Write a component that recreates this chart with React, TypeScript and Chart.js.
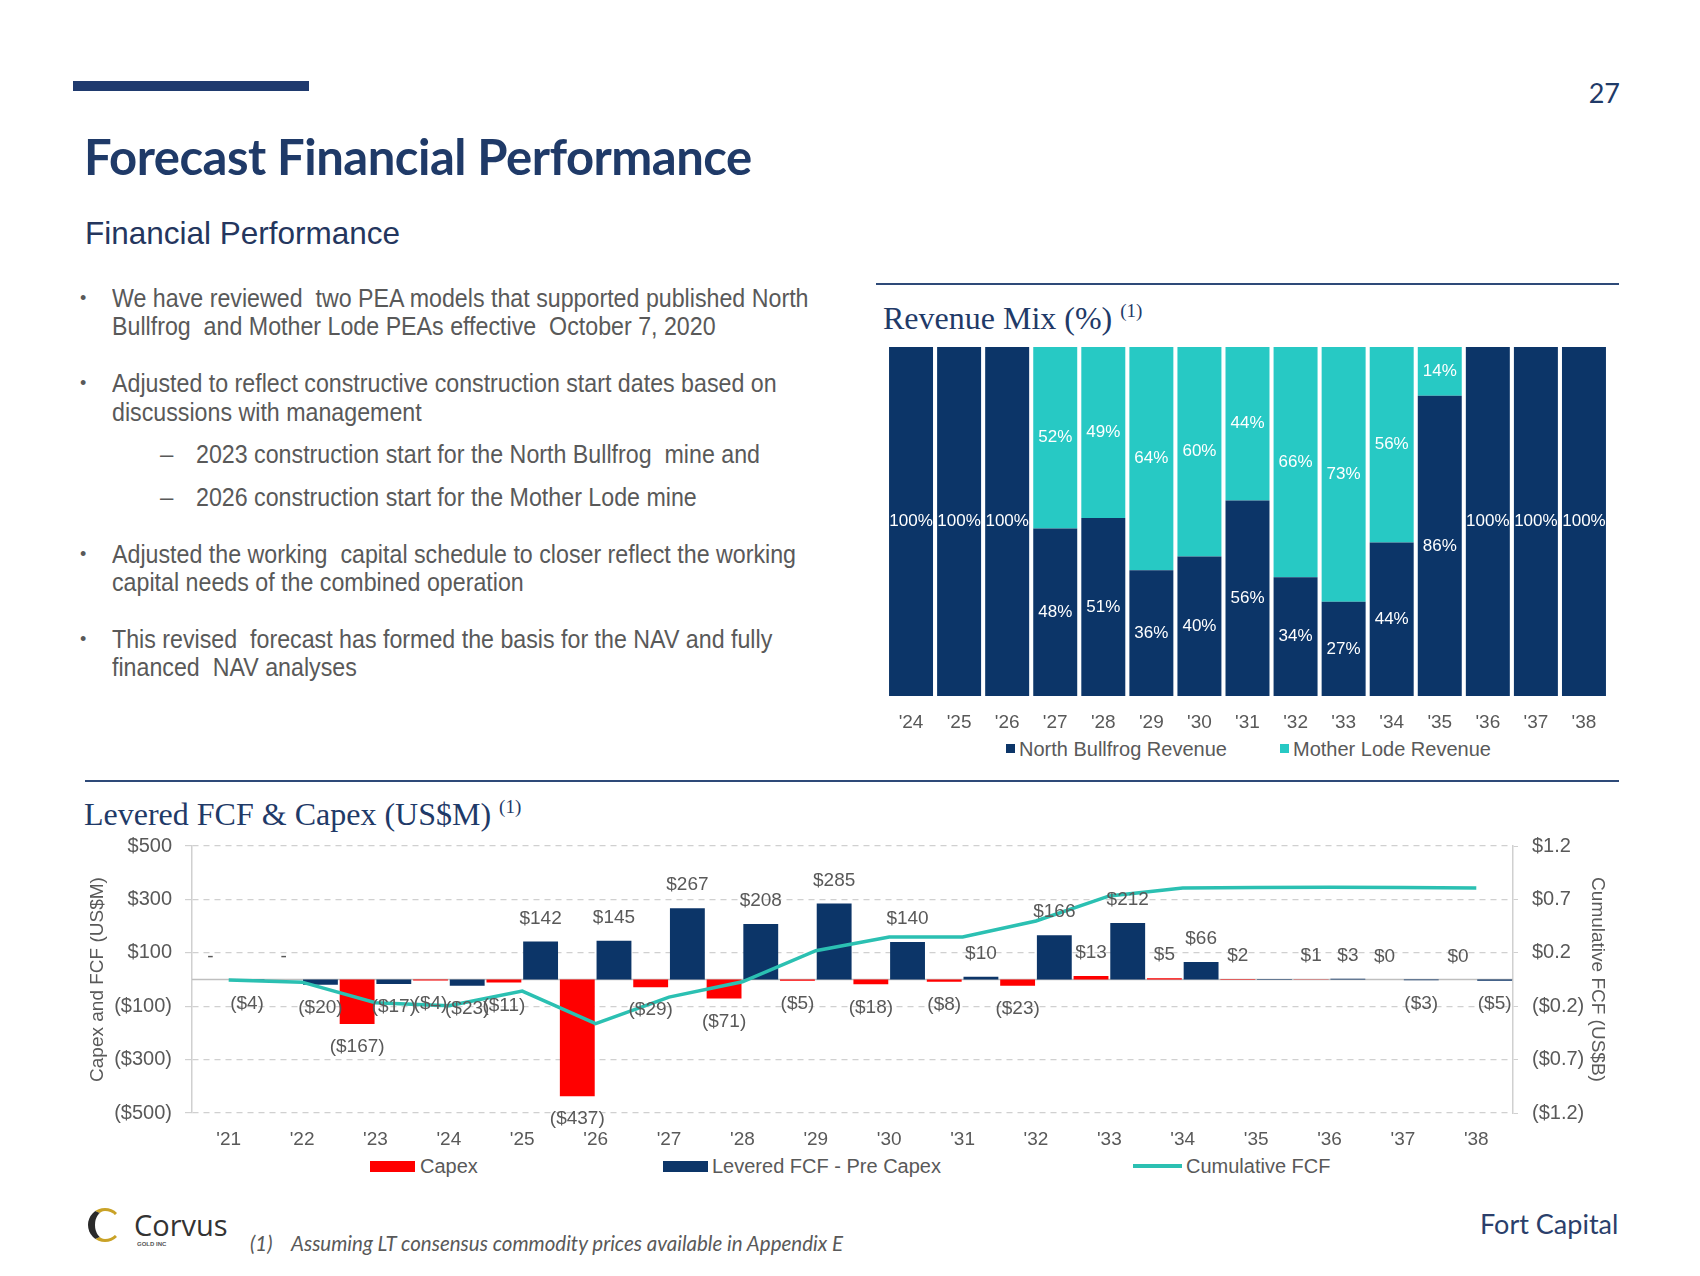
import React, { useEffect, useRef } from "react";
import { Chart, registerables } from "chart.js";

Chart.register(...registerables);

// ---------------- data ----------------
const revenueYears = ["'24", "'25", "'26", "'27", "'28", "'29", "'30", "'31", "'32", "'33", "'34", "'35", "'36", "'37", "'38"];
const northBullfrogPct = [100, 100, 100, 48, 51, 36, 40, 56, 34, 27, 44, 86, 100, 100, 100];
const motherLodePct = [0, 0, 0, 52, 49, 64, 60, 44, 66, 73, 56, 14, 0, 0, 0];

const fcfYears = ["'21", "'22", "'23", "'24", "'25", "'26", "'27", "'28", "'29", "'30", "'31", "'32", "'33", "'34", "'35", "'36", "'37", "'38"];
const capexM = [0, 0, -167, -4, -11, -437, -29, -71, -5, -18, -8, -23, 13, 5, 2, 1, 0.3, 0.3];
const leveredFcfM = [-4, -20, -17, -23, 142, 145, 267, 208, 285, 140, 10, 166, 212, 66, 2, 3, -3, -5];
const cumulativeFcfB = [-0.004, -0.024, -0.208, -0.235, -0.104, -0.396, -0.158, -0.021, 0.259, 0.381, 0.383, 0.526, 0.751, 0.822, 0.826, 0.83, 0.827, 0.822];
const fcfUnlabelledIdx = [14];
const leftAxisTicks = [-500, -300, -100, 100, 300, 500];
const rightAxisTicks = [-1.2, -0.72, -0.24, 0.24, 0.72, 1.2];

const bullets = [
  { kind: "bullet", lines: ["We have reviewed  two PEA models that supported published North", "Bullfrog  and Mother Lode PEAs effective  October 7, 2020"], ys: [298, 326] },
  { kind: "bullet", lines: ["Adjusted to reflect constructive construction start dates based on", "discussions with management"], ys: [383, 412] },
  { kind: "sub", lines: ["2023 construction start for the North Bullfrog  mine and"], ys: [454] },
  { kind: "sub", lines: ["2026 construction start for the Mother Lode mine"], ys: [497] },
  { kind: "bullet", lines: ["Adjusted the working  capital schedule to closer reflect the working", "capital needs of the combined operation"], ys: [554, 582] },
  { kind: "bullet", lines: ["This revised  forecast has formed the basis for the NAV and fully", "financed  NAV analyses"], ys: [639, 667] },
];

// ---------------- style constants ----------------
const SANS = '"Liberation Sans", Arial, sans-serif';
const SERIF = '"Liberation Serif", "Times New Roman", serif';
const CAL = 'Lato, "Open Sans", sans-serif';
const NAVY = "#0C3568";
const TEAL = "#27C9C4";
const LINE_TEAL = "#2BC0B2";
const RED = "#FF0000";
const GRAY = "#595959";
const TITLE_NAVY = "#1F3A68";

const revenueLabelPlugin = {
  id: "revLabels",
  afterDatasetsDraw(chart: any) {
    const ctx = chart.ctx;
    ctx.save();
    ctx.font = `17px ${SANS}`;
    ctx.fillStyle = "#FFFFFF";
    ctx.textAlign = "center";
    ctx.textBaseline = "middle";
    chart.data.datasets.forEach((ds: any, di: number) => {
      const meta = chart.getDatasetMeta(di);
      meta.data.forEach((el: any, i: number) => {
        const v = ds.data[i];
        if (!v) return;
        ctx.fillText(`${v}%`, el.x, (el.y + el.base) / 2);
      });
    });
    ctx.restore();
  },
};

const zeroLinePlugin = {
  id: "zeroLine",
  beforeDatasetsDraw(chart: any) {
    const { ctx, chartArea } = chart;
    const y = chart.scales.y.getPixelForValue(0);
    ctx.save();
    ctx.strokeStyle = "#BFBFBF";
    ctx.lineWidth = 1.5;
    ctx.beginPath();
    ctx.moveTo(chartArea.left, y);
    ctx.lineTo(chartArea.right, y);
    ctx.stroke();
    ctx.restore();
  },
};

const fmtM = (v: number) => (v === 0 ? "-" : v < 0 ? `($${Math.round(-v)})` : `$${Math.round(v)}`);

const fcfLabelPlugin = {
  id: "fcfLabels",
  afterDatasetsDraw(chart: any) {
    const ctx = chart.ctx;
    ctx.save();
    ctx.font = `19px ${SANS}`;
    ctx.fillStyle = GRAY;
    ctx.textAlign = "center";
    ctx.textBaseline = "middle";
    [0, 1].forEach((di) => {
      const meta = chart.getDatasetMeta(di);
      const vals = chart.data.datasets[di].data;
      meta.data.forEach((el: any, i: number) => {
        if (di === 1 && fcfUnlabelledIdx.includes(i)) return;
        const v = vals[i];
        const y = v < 0 ? el.y + 23 : el.y - 23;
        ctx.fillText(fmtM(v), el.x, y);
      });
    });
    ctx.restore();
  },
};

function RevenueChart() {
  const ref = useRef<HTMLCanvasElement>(null);
  useEffect(() => {
    const chart = new Chart(ref.current as HTMLCanvasElement, {
      type: "bar",
      data: {
        labels: revenueYears,
        datasets: [
          { label: "North Bullfrog Revenue", data: northBullfrogPct, backgroundColor: NAVY, stack: "s" },
          { label: "Mother Lode Revenue", data: motherLodePct, backgroundColor: TEAL, stack: "s" },
        ],
      },
      options: {
        animation: false,
        responsive: false,
        maintainAspectRatio: false,
        layout: { padding: { left: 11, right: 12, top: 12, bottom: 0 } },
        datasets: { bar: { categoryPercentage: 1, barPercentage: 0.915 } },
        plugins: { legend: { display: false }, tooltip: { enabled: false } },
        scales: {
          x: {
            stacked: true,
            grid: { display: false, drawTicks: false },
            border: { display: false },
            ticks: { color: GRAY, font: { family: SANS, size: 19 }, padding: 15, autoSkip: false, maxRotation: 0 },
            afterFit: (s: any) => { s.height = 39; },
          },
          y: { stacked: true, display: false, min: 0, max: 100 },
        },
      },
      plugins: [revenueLabelPlugin],
    } as any);
    return () => chart.destroy();
  }, []);
  return <canvas ref={ref} width={744} height={400} style={{ position: "absolute", left: 876, top: 335, width: 744, height: 400 }} />;
}

function FcfChart() {
  const ref = useRef<HTMLCanvasElement>(null);
  useEffect(() => {
    const chart = new Chart(ref.current as HTMLCanvasElement, {
      type: "bar",
      data: {
        labels: fcfYears,
        datasets: [
          { type: "bar", label: "Capex", data: capexM, backgroundColor: RED, yAxisID: "y", order: 1 },
          { type: "bar", label: "Levered FCF - Pre Capex", data: leveredFcfM, backgroundColor: NAVY, yAxisID: "y", order: 1 },
          { type: "line", label: "Cumulative FCF", data: cumulativeFcfB, borderColor: LINE_TEAL, backgroundColor: LINE_TEAL, borderWidth: 3.5, pointRadius: 0, tension: 0, yAxisID: "y1", order: 0 },
        ],
      },
      options: {
        animation: false,
        responsive: false,
        maintainAspectRatio: false,
        layout: { padding: { left: 0, right: 0, top: 25, bottom: 0 } },
        datasets: { bar: { categoryPercentage: 1, barPercentage: 0.95 } },
        plugins: { legend: { display: false }, tooltip: { enabled: false } },
        scales: {
          x: {
            grid: { display: false, drawTicks: false },
            border: { display: false },
            ticks: { color: GRAY, font: { family: SANS, size: 19 }, padding: 15, autoSkip: false, maxRotation: 0 },
            afterFit: (s: any) => { s.height = 37; },
          },
          y: {
            position: "left",
            min: -500,
            max: 500,
            afterBuildTicks: (s: any) => { s.ticks = leftAxisTicks.map((v) => ({ value: v })); },
            grid: { color: "#D0D0D0", lineWidth: 1.2, tickLength: 7 },
            border: { display: true, color: "#D0D0D0", width: 1.5, dash: [6, 5] },
            ticks: { color: GRAY, font: { family: SANS, size: 20 }, padding: 13, callback: (v: any) => (v < 0 ? `($${-v})` : `$${v}`) },
            title: { display: true, text: "Capex and FCF (US$M)", color: GRAY, font: { family: SANS, size: 19 }, padding: { top: 86, bottom: 0 } },
            afterFit: (s: any) => { s.width = 192; },
          },
          y1: {
            position: "right",
            min: -1.2,
            max: 1.2,
            afterBuildTicks: (s: any) => { s.ticks = rightAxisTicks.map((v) => ({ value: v })); },
            grid: { drawOnChartArea: false, tickLength: 5, color: "#D0D0D0" },
            border: { display: true, color: "#D0D0D0", width: 1.5 },
            ticks: { color: GRAY, font: { family: SANS, size: 20 }, padding: 14, callback: (v: any) => (v < 0 ? `($${(-v).toFixed(1)})` : `$${Number(v).toFixed(1)}`) },
            title: { display: true, text: "Cumulative FCF (US$B)", color: GRAY, font: { family: SANS, size: 19 }, padding: { top: 91, bottom: 0 } },
            afterFit: (s: any) => { s.width = 187; },
          },
        },
      },
      plugins: [zeroLinePlugin, fcfLabelPlugin],
    } as any);
    return () => chart.destroy();
  }, []);
  return <canvas ref={ref} width={1700} height={330} style={{ position: "absolute", left: 0, top: 820, width: 1700, height: 330 }} />;
}

const abs = (extra: React.CSSProperties): React.CSSProperties => ({ position: "absolute", whiteSpace: "pre", ...extra });

export default function App() {
  const bodyFont = 26;
  return (
    <div style={{ position: "absolute", left: 0, top: 0, width: 1700, height: 1276, background: "#FFFFFF", overflow: "hidden", fontFamily: SANS }}>
      {/* header bar */}
      <div style={abs({ left: 73, top: 81, width: 236, height: 10, background: "#1F3A6E" })} />
      <div style={abs({ left: 1560, top: 78, width: 60, textAlign: "right", fontFamily: CAL, fontSize: 27, lineHeight: "30px", color: TITLE_NAVY })}>27</div>

      {/* titles */}
      <div style={abs({ left: 84, top: 130, fontFamily: CAL, fontWeight: 700, fontSize: 49, lineHeight: "52px", color: TITLE_NAVY, letterSpacing: -0.5 })}>Forecast Financial Performance</div>
      <div style={abs({ left: 85, top: 216, fontSize: 31.5, lineHeight: "34px", color: "#24365E" })}>Financial Performance</div>

      {/* bullets */}
      {bullets.map((b, bi) =>
        b.lines.map((ln, li) => (
          <React.Fragment key={`${bi}-${li}`}>
            {li === 0 && (
              <div style={abs({ left: b.kind === "bullet" ? 80 : 160, top: b.ys[0] - 15, fontSize: b.kind === "bullet" ? 18 : 24, lineHeight: "30px", color: GRAY })}>
                {b.kind === "bullet" ? "•" : "–"}
              </div>
            )}
            <div
              style={abs({
                left: b.kind === "bullet" ? 112 : 196,
                top: b.ys[li] - 15,
                fontSize: bodyFont,
                lineHeight: "30px",
                color: GRAY,
                transform: "scaleX(0.893)",
                transformOrigin: "left center",
              })}
            >
              {ln}
            </div>
          </React.Fragment>
        ))
      )}

      {/* Revenue mix block */}
      <div style={abs({ left: 876, top: 283, width: 743, height: 2, background: "#2E4A78" })} />
      <div style={abs({ left: 883, top: 299, fontFamily: SERIF, fontSize: 32, lineHeight: "38px", color: TITLE_NAVY })}>
        Revenue Mix (%)<span style={{ fontSize: 19, position: "relative", top: -12, marginLeft: 8 }}>(1)</span>
      </div>
      <RevenueChart />
      <div style={abs({ left: 1006, top: 744, width: 9, height: 9, background: NAVY })} />
      <div style={abs({ left: 1019, top: 737, fontSize: 20, lineHeight: "24px", color: GRAY })}>North Bullfrog Revenue</div>
      <div style={abs({ left: 1280, top: 744, width: 9, height: 9, background: TEAL })} />
      <div style={abs({ left: 1293, top: 737, fontSize: 20, lineHeight: "24px", color: GRAY })}>Mother Lode Revenue</div>

      {/* separator */}
      <div style={abs({ left: 85, top: 780, width: 1534, height: 2, background: "#2E4A78" })} />

      {/* FCF block */}
      <div style={abs({ left: 84, top: 795, fontFamily: SERIF, fontSize: 32, lineHeight: "38px", color: TITLE_NAVY })}>
        Levered FCF &amp; Capex (US$M)<span style={{ fontSize: 19, position: "relative", top: -12, marginLeft: 8 }}>(1)</span>
      </div>
      <FcfChart />
      <div style={abs({ left: 370, top: 1161, width: 45, height: 11, background: RED })} />
      <div style={abs({ left: 420, top: 1154, fontSize: 20, lineHeight: "24px", color: GRAY })}>Capex</div>
      <div style={abs({ left: 663, top: 1161, width: 45, height: 11, background: NAVY })} />
      <div style={abs({ left: 712, top: 1154, fontSize: 20, lineHeight: "24px", color: GRAY })}>Levered FCF - Pre Capex</div>
      <div style={abs({ left: 1133, top: 1164, width: 49, height: 4, background: LINE_TEAL })} />
      <div style={abs({ left: 1186, top: 1154, fontSize: 20, lineHeight: "24px", color: GRAY })}>Cumulative FCF</div>

      {/* footer */}
      <div style={abs({ left: 88, top: 1208, width: 24, height: 28, borderRadius: "50%", borderLeft: "7px solid #2A2A2A", borderTop: "3px solid #C9A227", borderBottom: "3px solid #C9A227", borderRight: "3px solid transparent" })} />
      <div style={abs({ left: 134, top: 1208, fontFamily: '"Open Sans", sans-serif', fontSize: 29, lineHeight: "34px", color: "#333333" })}>Corvus</div>
      <div style={abs({ left: 137, top: 1240, fontSize: 6, lineHeight: "8px", color: "#555", fontWeight: 700 })}>GOLD INC</div>
      <div style={abs({ left: 250, top: 1230, fontFamily: CAL, fontStyle: "italic", fontSize: 20.5, lineHeight: "26px", color: GRAY })}>(1)</div>
      <div style={abs({ left: 291, top: 1230, fontFamily: CAL, fontStyle: "italic", fontSize: 20.5, lineHeight: "26px", color: GRAY })}>Assuming LT consensus commodity prices available in Appendix E</div>
      <div style={abs({ left: 1480, top: 1208, width: 138, textAlign: "right", fontFamily: CAL, fontSize: 27, lineHeight: "32px", color: "#2B3F6B" })}>Fort Capital</div>
    </div>
  );
}
